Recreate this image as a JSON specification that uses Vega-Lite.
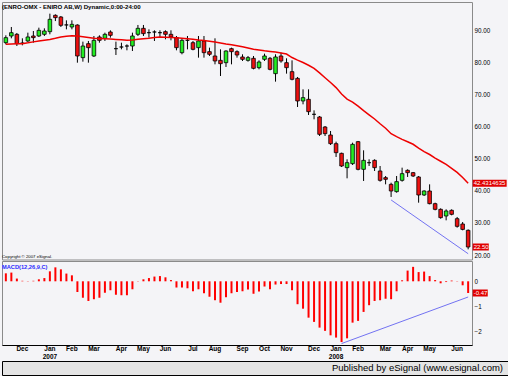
{
"$schema": "https://vega.github.io/schema/vega-lite/v6.json",
"background": "#f4f4f7",
"padding": {"left": 1, "top": 1, "right": 0, "bottom": 0},
"spacing": 0,
"bounds": "full",
"title": {"text": "(ENRO-OMX - ENIRO AB,W) Dynamic,0:00-24:00", "anchor": "start", "offset": -9, "fontSize": 6.1, "fontWeight": "bold", "font": "Liberation Sans", "color": "black", "frame": "group"},
"config": {"view": {"stroke": "#8a8a8a", "fill": "#f4f4f7"}, "font": "Liberation Sans", "axisY": {"labelOverlap": false}},
"datasets": {
"candles": [
{"d":"2006-11-10","o":86.35,"h":88.65,"l":85.83,"c":87.92,"ma":85.83,"macd":0.32},
{"d":"2006-11-17","o":88.44,"h":91.25,"l":87.71,"c":89.48,"ma":85.9,"macd":0.35},
{"d":"2006-11-24","o":88.96,"h":89.38,"l":85.31,"c":86.04,"ma":86.0,"macd":0.11},
{"d":"2006-12-01","o":86.2,"h":87.71,"l":85.52,"c":86.2,"ma":86.05,"macd":0.02},
{"d":"2006-12-08","o":86.88,"h":89.48,"l":86.56,"c":88.13,"ma":86.3,"macd":0.01},
{"d":"2006-12-15","o":88.44,"h":90.0,"l":86.35,"c":87.92,"ma":86.6,"macd":0.02},
{"d":"2006-12-22","o":88.44,"h":91.04,"l":88.13,"c":90.21,"ma":86.85,"macd":0.08},
{"d":"2006-12-29","o":88.96,"h":90.83,"l":88.44,"c":90.0,"ma":87.1,"macd":0.13},
{"d":"2007-01-05","o":89.79,"h":95.42,"l":88.96,"c":93.65,"ma":87.35,"macd":0.4},
{"d":"2007-01-12","o":94.9,"h":95.2,"l":93.1,"c":94.17,"ma":87.7,"macd":0.56},
{"d":"2007-01-19","o":94.38,"h":94.69,"l":91.25,"c":91.77,"ma":88.1,"macd":0.48},
{"d":"2007-01-26","o":91.9,"h":93.33,"l":90.52,"c":91.9,"ma":88.35,"macd":0.31},
{"d":"2007-02-02","o":91.25,"h":93.33,"l":90.52,"c":92.08,"ma":88.55,"macd":0.24},
{"d":"2007-02-09","o":91.87,"h":92.08,"l":80.1,"c":82.19,"ma":88.4,"macd":-0.43},
{"d":"2007-02-16","o":81.67,"h":86.67,"l":80.42,"c":85.31,"ma":88.2,"macd":-0.66},
{"d":"2007-02-23","o":86.04,"h":86.88,"l":80.1,"c":84.79,"ma":87.95,"macd":-0.79},
{"d":"2007-03-02","o":82.19,"h":88.44,"l":81.88,"c":87.08,"ma":87.72,"macd":-0.72},
{"d":"2007-03-09","o":88.13,"h":88.65,"l":86.35,"c":87.08,"ma":87.65,"macd":-0.66},
{"d":"2007-03-16","o":87.71,"h":89.48,"l":86.88,"c":88.96,"ma":87.58,"macd":-0.46},
{"d":"2007-03-23","o":89.69,"h":90.21,"l":87.92,"c":88.65,"ma":87.5,"macd":-0.36},
{"d":"2007-03-30","o":84.48,"h":86.67,"l":82.5,"c":84.48,"ma":87.38,"macd":-0.54},
{"d":"2007-04-06","o":85.0,"h":86.35,"l":84.27,"c":85.0,"ma":87.25,"macd":-0.56},
{"d":"2007-04-13","o":85.31,"h":85.83,"l":83.96,"c":85.31,"ma":87.1,"macd":-0.56},
{"d":"2007-04-20","o":85.31,"h":89.48,"l":83.75,"c":88.44,"ma":87.2,"macd":-0.32},
{"d":"2007-04-27","o":88.96,"h":91.88,"l":88.44,"c":90.83,"ma":87.4,"macd":0.01},
{"d":"2007-05-04","o":90.83,"h":91.88,"l":88.44,"c":89.17,"ma":87.6,"macd":0.08},
{"d":"2007-05-11","o":89.48,"h":90.52,"l":87.92,"c":89.48,"ma":87.75,"macd":0.13},
{"d":"2007-05-18","o":89.69,"h":90.21,"l":86.88,"c":89.69,"ma":87.95,"macd":0.19},
{"d":"2007-05-25","o":89.48,"h":90.21,"l":87.92,"c":89.48,"ma":88.1,"macd":0.21},
{"d":"2007-06-01","o":89.79,"h":90.21,"l":87.4,"c":88.96,"ma":88.08,"macd":0.16},
{"d":"2007-06-08","o":88.96,"h":90.21,"l":87.08,"c":88.13,"ma":88.0,"macd":0.05},
{"d":"2007-06-15","o":87.92,"h":88.44,"l":83.96,"c":84.79,"ma":87.88,"macd":-0.25},
{"d":"2007-06-22","o":83.23,"h":87.71,"l":82.71,"c":87.08,"ma":87.75,"macd":-0.25},
{"d":"2007-06-29","o":87.08,"h":88.44,"l":84.27,"c":87.08,"ma":87.6,"macd":-0.28},
{"d":"2007-07-06","o":86.35,"h":86.88,"l":83.96,"c":84.27,"ma":87.4,"macd":-0.4},
{"d":"2007-07-13","o":84.79,"h":88.44,"l":81.67,"c":86.88,"ma":87.2,"macd":-0.32},
{"d":"2007-07-20","o":86.88,"h":88.44,"l":81.67,"c":83.23,"ma":87.05,"macd":-0.48},
{"d":"2007-07-27","o":83.54,"h":84.79,"l":82.19,"c":82.71,"ma":86.8,"macd":-0.62},
{"d":"2007-08-03","o":82.19,"h":87.71,"l":79.58,"c":80.63,"ma":86.55,"macd":-0.76},
{"d":"2007-08-10","o":80.83,"h":84.27,"l":75.94,"c":79.79,"ma":86.25,"macd":-0.86},
{"d":"2007-08-17","o":80.1,"h":83.96,"l":78.75,"c":83.75,"ma":85.95,"macd":-0.64},
{"d":"2007-08-24","o":84.48,"h":84.79,"l":79.58,"c":83.54,"ma":85.7,"macd":-0.48},
{"d":"2007-08-31","o":83.54,"h":83.96,"l":81.67,"c":82.5,"ma":85.4,"macd":-0.43},
{"d":"2007-09-07","o":81.88,"h":82.71,"l":80.63,"c":81.15,"ma":85.05,"macd":-0.4},
{"d":"2007-09-14","o":80.83,"h":82.19,"l":80.42,"c":81.67,"ma":84.7,"macd":-0.33},
{"d":"2007-09-21","o":81.46,"h":82.19,"l":78.02,"c":78.33,"ma":84.3,"macd":-0.5},
{"d":"2007-09-28","o":78.54,"h":80.83,"l":78.02,"c":80.31,"ma":84.05,"macd":-0.41},
{"d":"2007-10-05","o":81.15,"h":82.92,"l":80.63,"c":82.19,"ma":83.8,"macd":-0.21},
{"d":"2007-10-12","o":81.46,"h":81.88,"l":77.71,"c":78.02,"ma":83.6,"macd":-0.32},
{"d":"2007-10-19","o":76.67,"h":82.71,"l":74.17,"c":81.88,"ma":83.4,"macd":-0.13},
{"d":"2007-10-26","o":82.19,"h":83.23,"l":80.1,"c":80.63,"ma":83.15,"macd":-0.11},
{"d":"2007-11-02","o":80.1,"h":81.46,"l":76.67,"c":78.54,"ma":82.8,"macd":-0.11},
{"d":"2007-11-09","o":77.29,"h":80.83,"l":74.58,"c":74.9,"ma":81.7,"macd":-0.36},
{"d":"2007-11-16","o":75.2,"h":75.63,"l":66.25,"c":68.13,"ma":80.9,"macd":-0.92},
{"d":"2007-11-23","o":68.13,"h":71.77,"l":67.08,"c":69.17,"ma":80.15,"macd":-1.1},
{"d":"2007-11-30","o":68.65,"h":71.77,"l":63.75,"c":64.79,"ma":79.3,"macd":-1.46},
{"d":"2007-12-07","o":63.96,"h":65.2,"l":62.4,"c":63.96,"ma":78.3,"macd":-1.63},
{"d":"2007-12-14","o":63.13,"h":63.44,"l":57.19,"c":57.71,"ma":76.9,"macd":-1.86},
{"d":"2007-12-21","o":60.0,"h":60.31,"l":57.19,"c":57.92,"ma":75.4,"macd":-1.99},
{"d":"2007-12-28","o":57.5,"h":58.75,"l":54.38,"c":54.79,"ma":73.9,"macd":-2.17},
{"d":"2008-01-04","o":54.79,"h":55.42,"l":50.63,"c":51.98,"ma":72.3,"macd":-2.26},
{"d":"2008-01-11","o":51.77,"h":51.98,"l":47.5,"c":47.81,"ma":70.3,"macd":-2.44},
{"d":"2008-01-18","o":47.29,"h":49.9,"l":43.96,"c":48.85,"ma":68.7,"macd":-2.29},
{"d":"2008-01-25","o":48.54,"h":55.1,"l":48.13,"c":54.58,"ma":67.8,"macd":-1.66},
{"d":"2008-02-01","o":55.42,"h":55.63,"l":46.46,"c":46.77,"ma":66.5,"macd":-1.59},
{"d":"2008-02-08","o":46.77,"h":52.71,"l":43.13,"c":49.58,"ma":65.1,"macd":-1.23},
{"d":"2008-02-15","o":48.85,"h":49.9,"l":47.81,"c":48.85,"ma":63.8,"macd":-0.96},
{"d":"2008-02-22","o":49.58,"h":49.9,"l":46.25,"c":47.29,"ma":62.5,"macd":-0.79},
{"d":"2008-02-29","o":46.25,"h":47.81,"l":42.92,"c":43.33,"ma":61.0,"macd":-0.76},
{"d":"2008-03-07","o":44.17,"h":44.69,"l":42.08,"c":43.65,"ma":59.6,"macd":-0.7},
{"d":"2008-03-14","o":42.08,"h":42.6,"l":38.13,"c":40.0,"ma":57.9,"macd":-0.72},
{"d":"2008-03-21","o":39.79,"h":44.69,"l":39.48,"c":42.92,"ma":57.0,"macd":-0.4},
{"d":"2008-03-28","o":43.33,"h":47.29,"l":42.92,"c":45.42,"ma":56.15,"macd":0.04},
{"d":"2008-04-04","o":46.46,"h":46.77,"l":44.38,"c":45.73,"ma":55.4,"macd":0.43},
{"d":"2008-04-11","o":45.73,"h":45.94,"l":44.38,"c":44.69,"ma":54.6,"macd":0.58},
{"d":"2008-04-18","o":44.38,"h":44.69,"l":36.35,"c":38.75,"ma":53.4,"macd":0.37},
{"d":"2008-04-25","o":38.75,"h":40.21,"l":38.44,"c":40.0,"ma":52.3,"macd":0.39},
{"d":"2008-05-02","o":40.0,"h":42.08,"l":35.83,"c":36.04,"ma":51.4,"macd":0.21},
{"d":"2008-05-09","o":36.04,"h":36.35,"l":33.96,"c":34.27,"ma":50.3,"macd":0.05},
{"d":"2008-05-16","o":34.27,"h":34.58,"l":31.35,"c":31.67,"ma":49.3,"macd":-0.08},
{"d":"2008-05-23","o":32.19,"h":34.27,"l":30.83,"c":33.75,"ma":48.3,"macd":-0.03},
{"d":"2008-05-30","o":33.96,"h":34.27,"l":32.4,"c":32.71,"ma":47.1,"macd":0.03},
{"d":"2008-06-06","o":31.35,"h":31.88,"l":28.54,"c":28.96,"ma":45.8,"macd":0.01},
{"d":"2008-06-13","o":29.69,"h":30.31,"l":27.71,"c":28.0,"ma":44.2,"macd":-0.16},
{"d":"2008-06-20","o":27.71,"h":28.0,"l":21.77,"c":22.5,"ma":42.43,"macd":-0.47}
],
"ptrend": [{"d":"2008-03-14","v":37.2},{"d":"2008-06-20","v":20.4}],
"mtrend": [{"d":"2008-01-11","v":-2.5},{"d":"2008-06-20","v":-0.63}],
"lastTop": [{"d":"2008-06-20","v":42.4314635,"t":"42.4314635"},{"d":"2008-06-20","v":22.5,"t":"22.50"}],
"lastMacd": [{"d":"2008-06-20","v":-0.47,"t":"-0.47"}],
"footer": [{"t":"Published by eSignal (www.esignal.com)"}]
},
"vconcat": [
{
"width": 470, "height": 257.5,
"title": {"text": "Copyright © 2007 eSignal.", "orient": "bottom", "anchor": "start", "offset": -5, "fontSize": 4.3, "fontWeight": "normal", "color": "black", "frame": "group"},
"layer": [
{"data": {"name": "candles"}, "mark": {"type": "rule", "color": "black", "strokeWidth": 1},
 "encoding": {
  "x": {"field": "d", "type": "ordinal", "scale": {"paddingInner": 0, "paddingOuter": 0.2}, "axis": null},
  "y": {"field": "l", "type": "quantitative", "scale": {"domain": [18.594, 99.06], "nice": false, "zero": false},
        "axis": {"orient": "right", "values": [20,30,40,50,60,70,80,90], "format": ".2f", "ticks": false, "domain": false, "grid": false, "title": null, "labelFontSize": 6.3, "labelPadding": 2, "labelColor": "black", "labelFont": "Liberation Sans", "labelOverlap": false, "labelBound": false}},
  "y2": {"field": "h"}}},
{"data": {"name": "candles"}, "mark": {"type": "bar", "size": 3.6, "stroke": "black", "strokeWidth": 0.8},
 "encoding": {
  "x": {"field": "d", "type": "ordinal"},
  "y": {"field": "o", "type": "quantitative", "axis": {"orient": "right", "values": [20,30,40,50,60,70,80,90], "format": ".2f", "ticks": false, "domain": false, "grid": false, "title": null, "labelFontSize": 6.3, "labelPadding": 2, "labelColor": "black", "labelFont": "Liberation Sans", "labelOverlap": false, "labelBound": false}},
  "y2": {"field": "c"},
  "fill": {"condition": [{"test": "datum.c > datum.o", "value": "#22ee22"}, {"test": "datum.c < datum.o", "value": "#ee1111"}], "value": "black"}}},
{"data": {"name": "candles"}, "mark": {"type": "line", "color": "#ee0000", "strokeWidth": 1.5},
 "encoding": {"x": {"field": "d", "type": "ordinal"}, "y": {"field": "ma", "type": "quantitative", "axis": {"orient": "right", "values": [20,30,40,50,60,70,80,90], "format": ".2f", "ticks": false, "domain": false, "grid": false, "title": null, "labelFontSize": 6.3, "labelPadding": 2, "labelColor": "black", "labelFont": "Liberation Sans", "labelOverlap": false, "labelBound": false}}}},
{"mark": {"type": "rule", "color": "#0000ff", "strokeWidth": 2}, "encoding": {"y": {"datum": 40, "type": "quantitative", "axis": {"orient": "right", "values": [20,30,40,50,60,70,80,90], "format": ".2f", "ticks": false, "domain": false, "grid": false, "title": null, "labelFontSize": 6.3, "labelPadding": 2, "labelColor": "black", "labelFont": "Liberation Sans", "labelOverlap": false, "labelBound": false}}}},
{"data": {"name": "ptrend"}, "mark": {"type": "line", "color": "#5050f0", "strokeWidth": 0.8},
 "encoding": {"x": {"field": "d", "type": "ordinal"}, "y": {"field": "v", "type": "quantitative", "axis": {"orient": "right", "values": [20,30,40,50,60,70,80,90], "format": ".2f", "ticks": false, "domain": false, "grid": false, "title": null, "labelFontSize": 6.3, "labelPadding": 2, "labelColor": "black", "labelFont": "Liberation Sans", "labelOverlap": false, "labelBound": false}}}},
{"data": {"name": "lastTop"}, "mark": {"type": "point", "filled": true, "color": "#e00000", "strokeWidth": 0, "size": 49, "opacity": 1},
 "encoding": {"x": {"field": "d", "type": "ordinal"}, "y": {"field": "v", "type": "quantitative", "axis": {"orient": "right", "values": [20,30,40,50,60,70,80,90], "format": ".2f", "ticks": false, "domain": false, "grid": false, "title": null, "labelFontSize": 6.3, "labelPadding": 2, "labelColor": "black", "labelFont": "Liberation Sans", "labelOverlap": false, "labelBound": false}},
  "shape": {"condition": {"test": "datum.v > 30", "value": "M1.3,-1L11.0,-1L11.0,1L1.3,1Z"}, "value": "M1.3,-1L5.9,-1L5.9,1L1.3,1Z"}}},
{"data": {"name": "lastTop"}, "mark": {"type": "text", "align": "left", "baseline": "middle", "dx": 5.5, "color": "white", "fontSize": 6.0},
 "encoding": {"x": {"field": "d", "type": "ordinal"}, "y": {"field": "v", "type": "quantitative", "axis": {"orient": "right", "values": [20,30,40,50,60,70,80,90], "format": ".2f", "ticks": false, "domain": false, "grid": false, "title": null, "labelFontSize": 6.3, "labelPadding": 2, "labelColor": "black", "labelFont": "Liberation Sans", "labelOverlap": false, "labelBound": false}}, "text": {"field": "t"}}}
]
},
{
"width": 470, "height": 84,
"title": {"text": "MACD(12,26,9,C)", "anchor": "start", "offset": -9, "fontSize": 5.7, "fontWeight": "bold", "color": "#2b2bff", "frame": "group"},
"layer": [
{"data": {"name": "candles"}, "mark": {"type": "bar", "size": 2, "color": "#ff0000"},
 "encoding": {
  "x": {"field": "d", "type": "ordinal", "scale": {"paddingInner": 0, "paddingOuter": 0.2},
        "axis": {"orient": "bottom", "title": null, "ticks": false, "domain": true, "domainColor": "black", "grid": false, "labelAngle": 0, "labelFontSize": 6.5, "labelFontWeight": "bold", "labelPadding": 0.5, "labelBaseline": "top", "labelLineHeight": 7.5, "labelOverlap": false, "labelBound": false, "labelFlush": false, "labelColor": "black",
                 "labelExpr": "toNumber(substring(datum.value, 8, 10)) > 7 ? '' : (substring(datum.value, 5, 7) == '01' ? [utcFormat(toDate(datum.value), '%b'), substring(datum.value, 0, 4)] : utcFormat(toDate(datum.value), '%b'))"}},
  "y": {"field": "macd", "type": "quantitative", "scale": {"domain": [-2.558, 0.815], "nice": false},
        "axis": {"orient": "right", "values": [0,-1,-2], "ticks": false, "domain": false, "grid": false, "title": null, "labelFontSize": 6.3, "labelPadding": 2, "labelColor": "black", "labelOverlap": false}}}},
{"data": {"name": "mtrend"}, "mark": {"type": "line", "color": "#5050f0", "strokeWidth": 0.8},
 "encoding": {"x": {"field": "d", "type": "ordinal"}, "y": {"field": "v", "type": "quantitative"}}},
{"data": {"name": "lastMacd"}, "mark": {"type": "point", "filled": true, "color": "#e00000", "strokeWidth": 0, "size": 49, "opacity": 1, "shape": "M1.3,-1L5.6,-1L5.6,1L1.3,1Z"},
 "encoding": {"x": {"field": "d", "type": "ordinal"}, "y": {"field": "v", "type": "quantitative"}}},
{"data": {"name": "lastMacd"}, "mark": {"type": "text", "align": "left", "baseline": "middle", "dx": 5.5, "color": "white", "fontSize": 6.0},
 "encoding": {"x": {"field": "d", "type": "ordinal"}, "y": {"field": "v", "type": "quantitative"}, "text": {"field": "t"}}}
]
},
{
"width": 507, "height": 14,
"view": {"fill": "#e4e4e4", "stroke": "black"},
"data": {"name": "footer"},
"mark": {"type": "text", "align": "right", "baseline": "middle", "dx": -6, "fontSize": 9.5, "color": "black"},
"encoding": {"x": {"value": "width"}, "text": {"field": "t"}}
}
]
}
